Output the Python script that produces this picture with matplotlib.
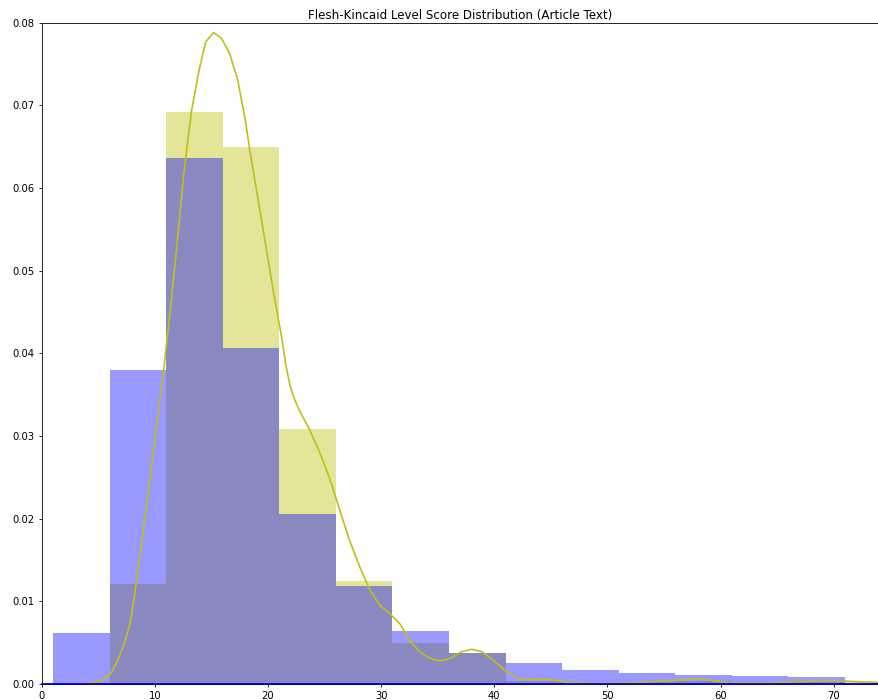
import matplotlib
matplotlib.use("Agg")
import matplotlib.pyplot as plt
import numpy as np

# Histogram bin edges (score units)
bin_edges = [1, 6, 11, 16, 21, 26, 31, 36, 41, 46, 51, 56, 61, 66, 71, 76]

# Normalised bar heights for each histogram
blue_heights = [0.0062, 0.0380, 0.0636, 0.0407, 0.0206, 0.0118, 0.0064, 0.0037,
                0.0025, 0.0017, 0.0013, 0.00105, 0.00093, 0.00085, 0.0]
yellow_heights = [0.0, 0.0121, 0.0692, 0.0650, 0.0309, 0.0124, 0.0050, 0.0038,
                  0.0004, 0.0001, 0.0002, 0.0004, 0.0001, 0.0003, 0.0003]

# Kernel density estimate of the yellow series
kde_x = [3.0, 4.0, 4.56, 5.44, 6.03, 6.6, 7.2, 7.5, 7.8, 8.1, 8.39, 8.98, 9.57,
         10.16, 10.74, 11.33, 11.93, 12.5, 12.86, 13.25, 13.9, 14.5, 15.2, 15.9,
         16.6, 17.3, 18.0, 18.4, 18.84, 19.58, 20.46, 21.2, 21.55, 21.93, 22.3,
         22.67, 23.7, 24.6, 25.47, 26.35, 27.2, 28.1, 29.0, 29.9, 30.77, 31.65,
         32.5, 33.4, 34.3, 35.2, 36.1, 37.1, 38.0, 38.9, 39.9, 40.9, 42.0, 43.0,
         44.0, 45.2, 46.4, 47.8, 49.5, 51.0, 52.3, 55.2, 58.2, 59.9, 61.1, 64.0,
         67.0, 69.9, 71.7, 73.8, 75.0]
kde_y = [0.0, 0.00002, 0.00016, 0.0005, 0.0011, 0.0025, 0.0045, 0.0058, 0.0073,
         0.0098, 0.0126, 0.0186, 0.0247, 0.0315, 0.0375, 0.0448, 0.0528, 0.0609,
         0.0652, 0.0694, 0.0742, 0.0777, 0.0788, 0.0781, 0.0763, 0.0732, 0.0682,
         0.0645, 0.0609, 0.0549, 0.0476, 0.0420, 0.0388, 0.0362, 0.0346, 0.0334,
         0.0307, 0.0279, 0.0248, 0.0210, 0.0174, 0.0142, 0.0114, 0.0095, 0.0085,
         0.0073, 0.0053, 0.0039, 0.0031, 0.0028, 0.0031, 0.0039, 0.0042, 0.0039,
         0.0029, 0.0017, 0.0007, 0.0005, 0.0006, 0.0005, 0.0002, 0.0001, 0.00005,
         0.0001, 0.00015, 0.0004, 0.0006, 0.0003, 0.0001, 0.0001, 0.0003, 0.0004,
         0.0003, 0.0002, 0.0001]

# Density curve of the blue series (flat along the baseline)
blue_kde_x = [0.0, 76.0]
blue_kde_y = [0.0, 0.0]

title = "Flesh-Kincaid Level Score Distribution (Article Text)"
x_ticks = [0, 10, 20, 30, 40, 50, 60, 70]
y_ticks = [0.00, 0.01, 0.02, 0.03, 0.04, 0.05, 0.06, 0.07, 0.08]

fig = plt.figure(figsize=(8.79, 7.0), dpi=100)
ax = fig.add_axes([41.7 / 879, 16 / 700, (879 - 41.7) / 879, 661.3 / 700])

lefts = bin_edges[:-1]
widths = np.diff(bin_edges)

ax.bar(lefts, yellow_heights, width=widths, align="edge",
       color=(0.75, 0.75, 0.0), alpha=0.4, linewidth=0)
ax.plot(kde_x, kde_y, color=(0.75, 0.75, 0.1), lw=1.2)
ax.bar(lefts, blue_heights, width=widths, align="edge",
       color=(0.0, 0.0, 1.0), alpha=0.4, linewidth=0)
ax.plot(blue_kde_x, blue_kde_y, color=(0.0, 0.0, 0.8), lw=1.3, clip_on=False,
        zorder=3)

ax.set_xlim(0, 74)
ax.set_ylim(0, 0.08)
ax.set_xticks(x_ticks)
ax.set_yticks(y_ticks)
ax.set_yticklabels([f"{v:.2f}" for v in y_ticks])
ax.tick_params(labelsize=7.2, length=2.5, width=0.6, pad=2.5)
for side in ("left", "bottom", "top"):
    ax.spines[side].set_linewidth(0.6)
ax.spines["right"].set_visible(False)
ax.set_title(title, fontsize=8.6, pad=3)

fig.savefig("out.png", dpi=100)
